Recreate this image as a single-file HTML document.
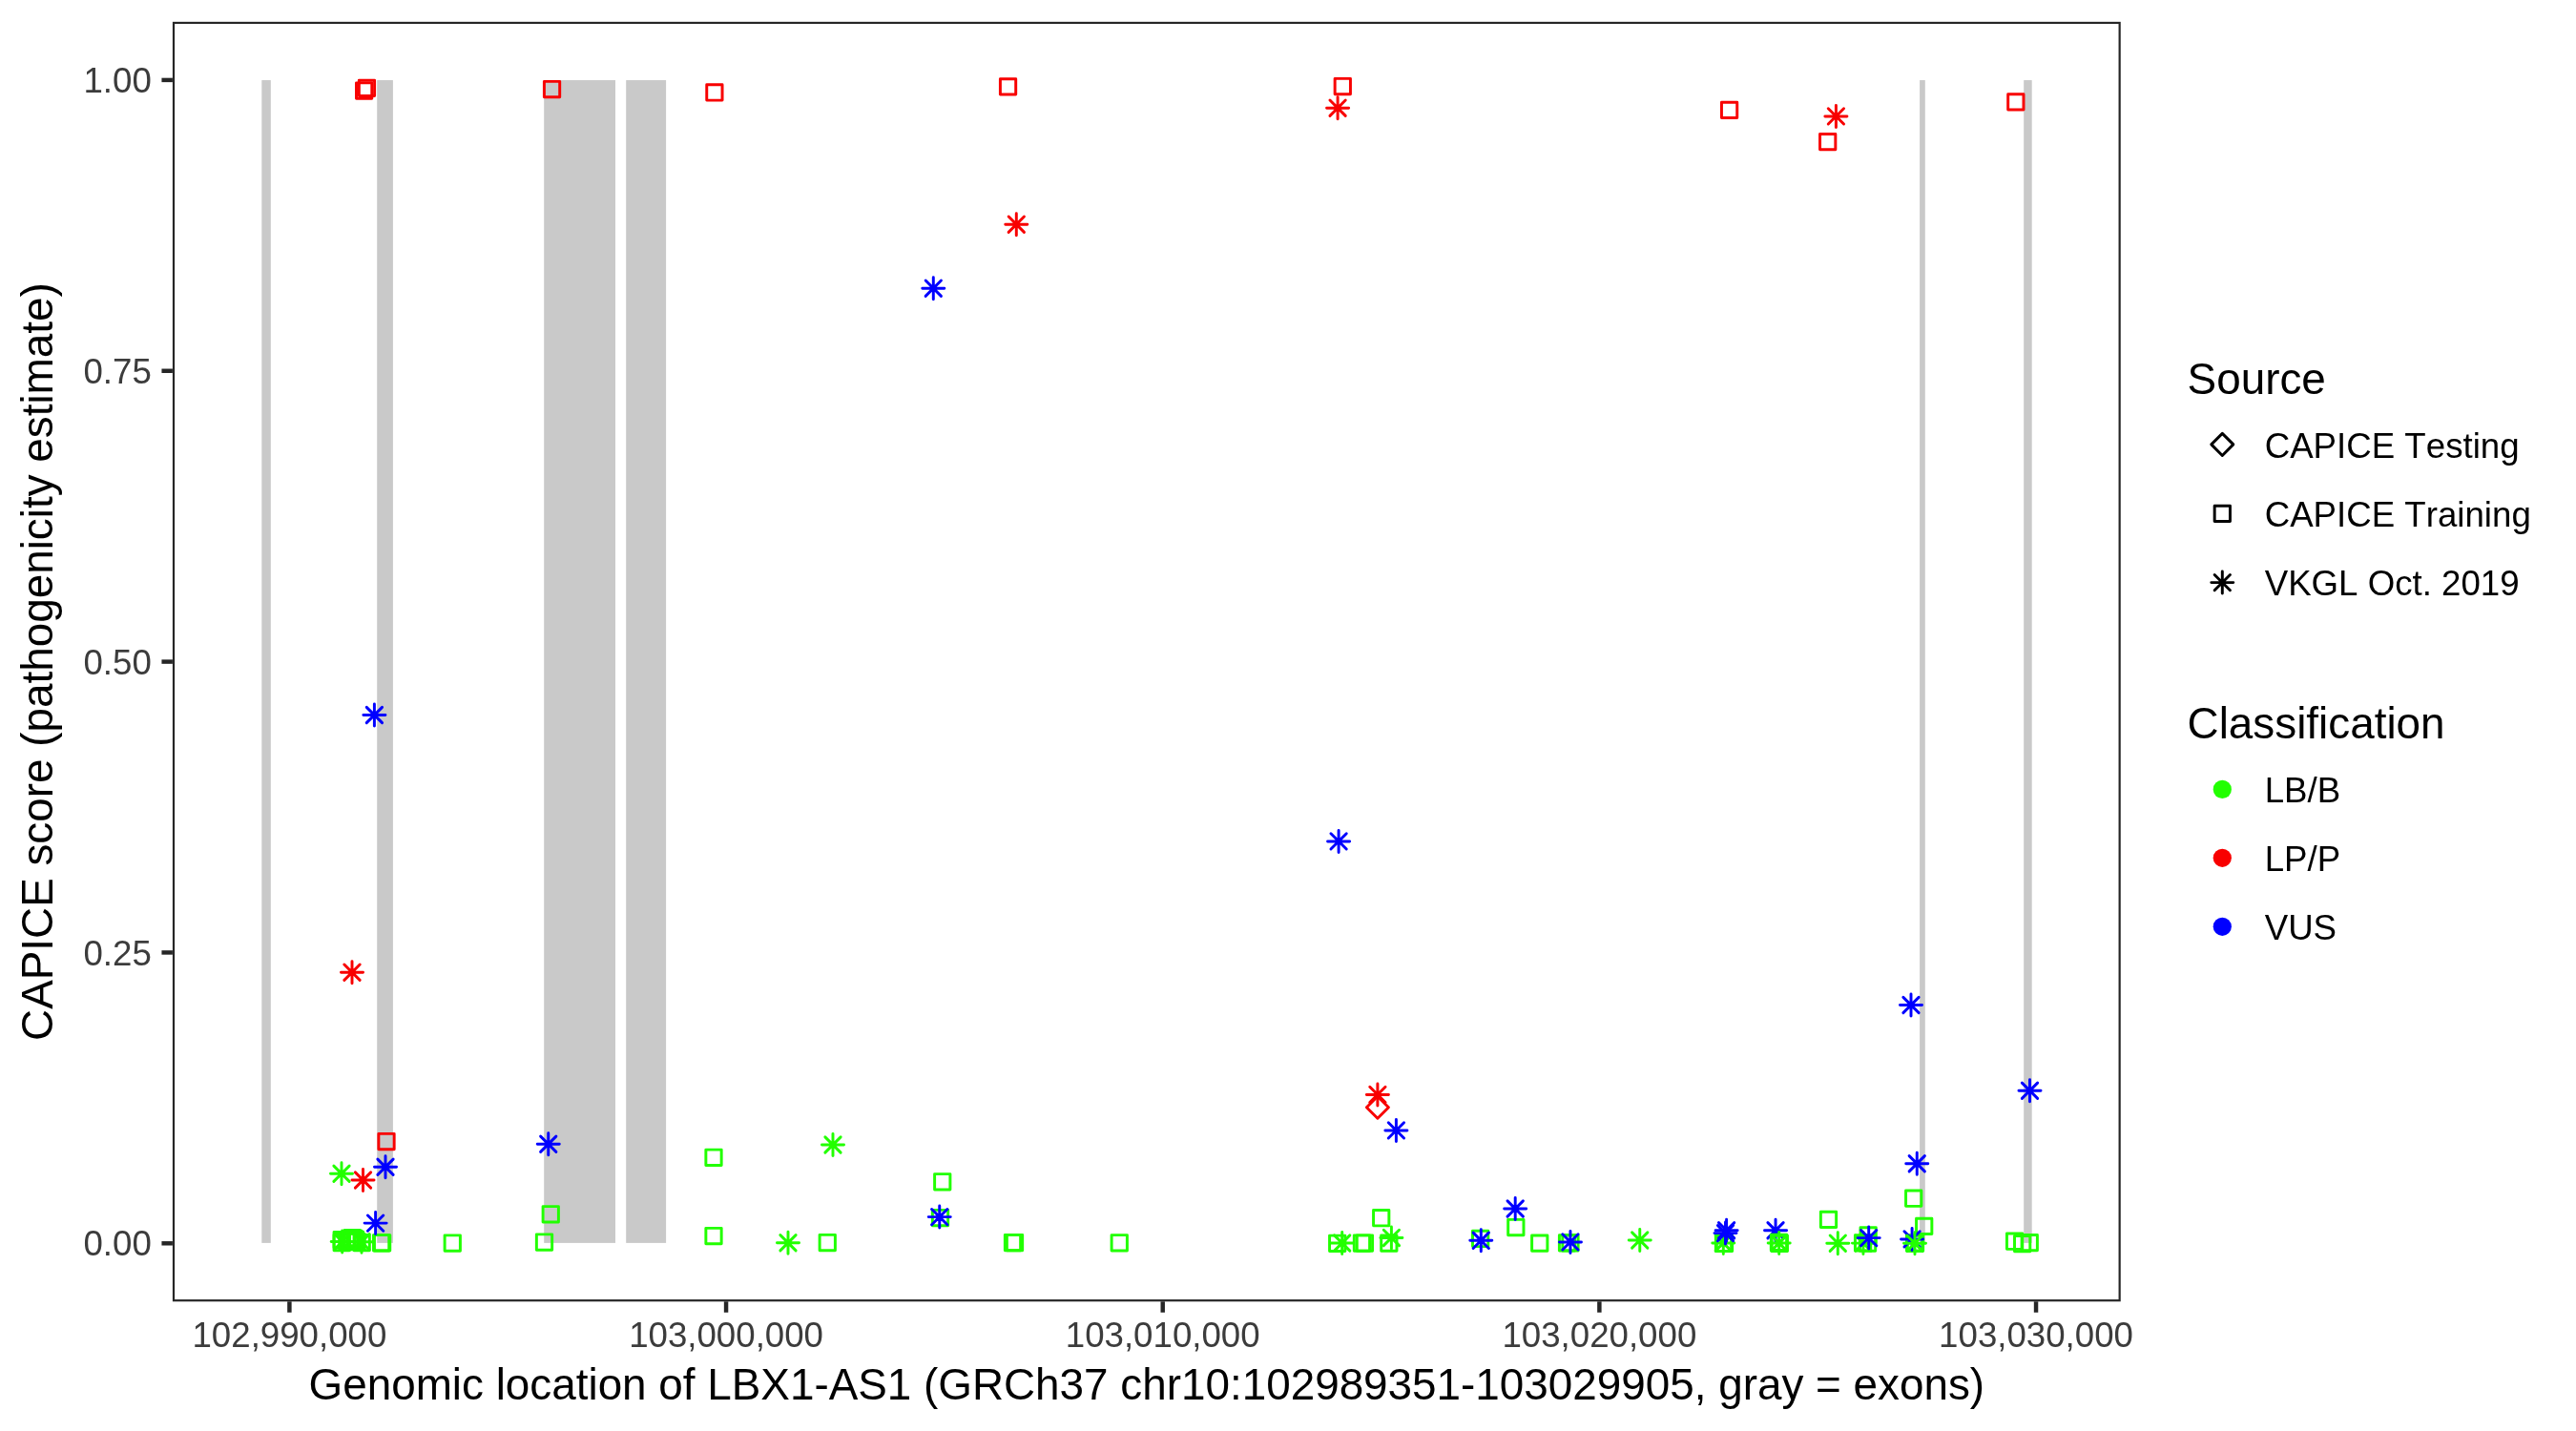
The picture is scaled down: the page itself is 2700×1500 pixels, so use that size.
<!DOCTYPE html>
<html lang="en"><head><meta charset="utf-8"><title>CAPICE score LBX1-AS1</title>
<style>html,body{margin:0;padding:0;background:#fff}body{width:2700px;height:1500px;overflow:hidden}svg{display:block;will-change:transform}text{font-family:"Liberation Sans",Arial,Helvetica,sans-serif;font-kerning:none}</style></head><body>
<svg width="2700" height="1500" viewBox="0 0 2700 1500">
<rect width="2700" height="1500" fill="#fff"/>
<g fill="#C9C9C9">
<rect x="274.3" y="84.05" width="9.5" height="1218.85"/>
<rect x="395.2" y="84.05" width="16.7" height="1218.85"/>
<rect x="570.2" y="84.05" width="74.8" height="1218.85"/>
<rect x="656.2" y="84.05" width="41.9" height="1218.85"/>
<rect x="2012.1" y="84.05" width="5.7" height="1218.85"/>
<rect x="2121.2" y="84.05" width="8.5" height="1218.85"/>
</g>
<g fill="none" stroke-width="2.95" stroke-linecap="round" stroke-linejoin="round">
<rect x="739.86" y="1205.11" width="16.29" height="16.29" stroke="#22FF00"/>
<rect x="569.11" y="1264.61" width="16.29" height="16.29" stroke="#22FF00"/>
<rect x="739.86" y="1287.36" width="16.29" height="16.29" stroke="#22FF00"/>
<rect x="391.46" y="1294.61" width="16.29" height="16.29" stroke="#22FF00"/>
<rect x="392.46" y="1294.61" width="16.29" height="16.29" stroke="#22FF00"/>
<rect x="466.11" y="1294.86" width="16.29" height="16.29" stroke="#22FF00"/>
<rect x="562.36" y="1293.86" width="16.29" height="16.29" stroke="#22FF00"/>
<rect x="859.11" y="1294.36" width="16.29" height="16.29" stroke="#22FF00"/>
<rect x="979.61" y="1230.61" width="16.29" height="16.29" stroke="#22FF00"/>
<rect x="977.36" y="1268.36" width="16.29" height="16.29" stroke="#22FF00"/>
<rect x="1053.36" y="1294.36" width="16.29" height="16.29" stroke="#22FF00"/>
<rect x="1055.36" y="1294.36" width="16.29" height="16.29" stroke="#22FF00"/>
<rect x="1165.11" y="1294.61" width="16.29" height="16.29" stroke="#22FF00"/>
<rect x="1393.56" y="1295.11" width="16.29" height="16.29" stroke="#22FF00"/>
<rect x="1419.31" y="1294.86" width="16.29" height="16.29" stroke="#22FF00"/>
<rect x="1422.26" y="1294.86" width="16.29" height="16.29" stroke="#22FF00"/>
<rect x="1439.56" y="1268.56" width="16.29" height="16.29" stroke="#22FF00"/>
<rect x="1447.7" y="1294.86" width="16.29" height="16.29" stroke="#22FF00"/>
<rect x="1543.51" y="1290.31" width="16.29" height="16.29" stroke="#22FF00"/>
<rect x="1580.7" y="1278.36" width="16.29" height="16.29" stroke="#22FF00"/>
<rect x="1605.61" y="1294.9" width="16.29" height="16.29" stroke="#22FF00"/>
<rect x="1634.4" y="1294.76" width="16.29" height="16.29" stroke="#22FF00"/>
<rect x="1637.81" y="1294.76" width="16.29" height="16.29" stroke="#22FF00"/>
<rect x="1798.36" y="1295.15" width="16.29" height="16.29" stroke="#22FF00"/>
<rect x="1799.36" y="1295.15" width="16.29" height="16.29" stroke="#22FF00"/>
<rect x="1908.36" y="1270.15" width="16.29" height="16.29" stroke="#22FF00"/>
<rect x="1944.45" y="1294.76" width="16.29" height="16.29" stroke="#22FF00"/>
<rect x="1950.01" y="1286.7" width="16.29" height="16.29" stroke="#22FF00"/>
<rect x="1949.4" y="1295.01" width="16.29" height="16.29" stroke="#22FF00"/>
<rect x="1997.56" y="1248.06" width="16.29" height="16.29" stroke="#22FF00"/>
<rect x="2008.56" y="1277.26" width="16.29" height="16.29" stroke="#22FF00"/>
<rect x="1998.45" y="1294.95" width="16.29" height="16.29" stroke="#22FF00"/>
<rect x="1999.36" y="1294.95" width="16.29" height="16.29" stroke="#22FF00"/>
<rect x="2103.45" y="1293.06" width="16.29" height="16.29" stroke="#22FF00"/>
<rect x="2111.51" y="1295.45" width="16.29" height="16.29" stroke="#22FF00"/>
<rect x="2119.11" y="1294.45" width="16.29" height="16.29" stroke="#22FF00"/>
<rect x="350.06" y="1294.36" width="16.29" height="16.29" stroke="#22FF00"/>
<rect x="350.06" y="1291.56" width="16.29" height="16.29" stroke="#22FF00"/>
<rect x="371.06" y="1294.36" width="16.29" height="16.29" stroke="#22FF00"/>
<rect x="361.16" y="1289.36" width="16.29" height="16.29" stroke="#22FF00"/>
<rect x="358.36" y="1291.15" width="16.29" height="16.29" stroke="#22FF00"/>
<rect x="364.36" y="1291.15" width="16.29" height="16.29" stroke="#22FF00"/>
<rect x="355.86" y="1292.86" width="16.29" height="16.29" stroke="#22FF00"/>
<rect x="365.86" y="1293.36" width="16.29" height="16.29" stroke="#22FF00"/>
<rect x="373.5" y="86.86" width="16.29" height="16.29" stroke="#F80000"/>
<rect x="376.31" y="84.26" width="16.29" height="16.29" stroke="#F80000"/>
<rect x="570.4" y="85.36" width="16.29" height="16.29" stroke="#F80000"/>
<rect x="740.75" y="88.81" width="16.29" height="16.29" stroke="#F80000"/>
<rect x="1048.41" y="82.76" width="16.29" height="16.29" stroke="#F80000"/>
<rect x="1399.15" y="82.36" width="16.29" height="16.29" stroke="#F80000"/>
<rect x="1804.45" y="107.16" width="16.29" height="16.29" stroke="#F80000"/>
<rect x="1907.56" y="140.45" width="16.29" height="16.29" stroke="#F80000"/>
<rect x="2104.7" y="98.66" width="16.29" height="16.29" stroke="#F80000"/>
<rect x="396.86" y="1188.36" width="16.29" height="16.29" stroke="#F80000"/>
<path d="M1432.38 1160.7L1443.9 1149.18L1455.42 1160.7L1443.9 1172.22Z" stroke="#F80000"/>
<path d="M349.86 1222.11L366.14 1238.39M349.86 1238.39L366.14 1222.11M346.48 1230.25L369.52 1230.25M358 1218.73L358 1241.77" stroke="#22FF00"/>
<path d="M864.86 1191.86L881.14 1208.14M864.86 1208.14L881.14 1191.86M861.48 1200L884.52 1200M873 1188.48L873 1211.52" stroke="#22FF00"/>
<path d="M817.86 1294.61L834.14 1310.89M817.86 1310.89L834.14 1294.61M814.48 1302.75L837.52 1302.75M826 1291.23L826 1314.27" stroke="#22FF00"/>
<path d="M1398.56 1294.86L1414.85 1311.14M1398.56 1311.14L1414.85 1294.86M1395.18 1303L1418.22 1303M1406.7 1291.48L1406.7 1314.52" stroke="#22FF00"/>
<path d="M1450.26 1289.31L1466.55 1305.6M1450.26 1305.6L1466.55 1289.31M1446.88 1297.45L1469.92 1297.45M1458.4 1285.93L1458.4 1308.97" stroke="#22FF00"/>
<path d="M1710.61 1291.86L1726.89 1308.14M1710.61 1308.14L1726.89 1291.86M1707.23 1300L1730.27 1300M1718.75 1288.48L1718.75 1311.52" stroke="#22FF00"/>
<path d="M1798.15 1294.86L1814.44 1311.14M1798.15 1311.14L1814.44 1294.86M1794.78 1303L1817.82 1303M1806.3 1291.48L1806.3 1314.52" stroke="#22FF00"/>
<path d="M1918.15 1295.06L1934.44 1311.35M1918.15 1311.35L1934.44 1295.06M1914.78 1303.2L1937.82 1303.2M1926.3 1291.68L1926.3 1314.72" stroke="#22FF00"/>
<path d="M1944.81 1294.95L1961.1 1311.24M1944.81 1311.24L1961.1 1294.95M1941.43 1303.1L1964.47 1303.1M1952.95 1291.58L1952.95 1314.62" stroke="#22FF00"/>
<path d="M350.56 1293.36L366.84 1309.64M350.56 1309.64L366.84 1293.36M347.18 1301.5L370.22 1301.5M358.7 1289.98L358.7 1313.02" stroke="#22FF00"/>
<path d="M370.86 1293.65L387.14 1309.94M370.86 1309.94L387.14 1293.65M367.48 1301.8L390.52 1301.8M379 1290.28L379 1313.32" stroke="#22FF00"/>
<path d="M1393.95 105.06L1410.24 121.34M1393.95 121.34L1410.24 105.06M1390.58 113.2L1413.62 113.2M1402.1 101.68L1402.1 124.72" stroke="#F80000"/>
<path d="M1057.15 227.05L1073.44 243.34M1057.15 243.34L1073.44 227.05M1053.78 235.2L1076.82 235.2M1065.3 223.68L1065.3 246.72" stroke="#F80000"/>
<path d="M1916.26 113.76L1932.55 130.05M1916.26 130.05L1932.55 113.76M1912.88 121.9L1935.92 121.9M1924.4 110.38L1924.4 133.42" stroke="#F80000"/>
<path d="M360.86 1011.06L377.14 1027.35M360.86 1027.35L377.14 1011.06M357.48 1019.2L380.52 1019.2M369 1007.68L369 1030.72" stroke="#F80000"/>
<path d="M372.36 1228.86L388.64 1245.14M372.36 1245.14L388.64 1228.86M368.98 1237L392.02 1237M380.5 1225.48L380.5 1248.52" stroke="#F80000"/>
<path d="M1435.76 1139.26L1452.05 1155.55M1435.76 1155.55L1452.05 1139.26M1432.38 1147.4L1455.42 1147.4M1443.9 1135.88L1443.9 1158.92" stroke="#F80000"/>
<path d="M1852.9 1281.61L1869.19 1297.89M1852.9 1297.89L1869.19 1281.61M1849.53 1289.75L1872.57 1289.75M1861.05 1278.23L1861.05 1301.27" stroke="#0000FF"/>
<rect x="1856.31" y="1294.11" width="16.29" height="16.29" stroke="#22FF00"/>
<rect x="1857.2" y="1295.2" width="16.29" height="16.29" stroke="#22FF00"/>
<path d="M970.15 294.06L986.44 310.34M970.15 310.34L986.44 294.06M966.78 302.2L989.82 302.2M978.3 290.68L978.3 313.72" stroke="#0000FF"/>
<path d="M384.25 741.36L400.54 757.64M384.25 757.64L400.54 741.36M380.88 749.5L403.92 749.5M392.4 737.98L392.4 761.02" stroke="#0000FF"/>
<path d="M1394.95 873.75L1411.24 890.04M1394.95 890.04L1411.24 873.75M1391.58 881.9L1414.62 881.9M1403.1 870.38L1403.1 893.42" stroke="#0000FF"/>
<path d="M566.61 1191.11L582.89 1207.39M566.61 1207.39L582.89 1191.11M563.23 1199.25L586.27 1199.25M574.75 1187.73L574.75 1210.77" stroke="#0000FF"/>
<path d="M395.86 1215.11L412.14 1231.39M395.86 1231.39L412.14 1215.11M392.48 1223.25L415.52 1223.25M404 1211.73L404 1234.77" stroke="#0000FF"/>
<path d="M385.46 1273.95L401.75 1290.24M385.46 1290.24L401.75 1273.95M382.08 1282.1L405.12 1282.1M393.6 1270.58L393.6 1293.62" stroke="#0000FF"/>
<path d="M976.61 1267.45L992.89 1283.74M976.61 1283.74L992.89 1267.45M973.23 1275.6L996.27 1275.6M984.75 1264.08L984.75 1287.12" stroke="#0000FF"/>
<path d="M1455.26 1176.76L1471.55 1193.05M1455.26 1193.05L1471.55 1176.76M1451.88 1184.9L1474.92 1184.9M1463.4 1173.38L1463.4 1196.42" stroke="#0000FF"/>
<path d="M1544.15 1292.15L1560.44 1308.44M1544.15 1308.44L1560.44 1292.15M1540.78 1300.3L1563.82 1300.3M1552.3 1288.78L1552.3 1311.82" stroke="#0000FF"/>
<path d="M1580.06 1258.86L1596.35 1275.14M1580.06 1275.14L1596.35 1258.86M1576.68 1267L1599.72 1267M1588.2 1255.48L1588.2 1278.52" stroke="#0000FF"/>
<path d="M1637.81 1293.76L1654.1 1310.05M1637.81 1310.05L1654.1 1293.76M1634.43 1301.9L1657.47 1301.9M1645.95 1290.38L1645.95 1313.42" stroke="#0000FF"/>
<path d="M1800.36 1284.45L1816.64 1300.74M1800.36 1300.74L1816.64 1284.45M1796.98 1292.6L1820.02 1292.6M1808.5 1281.08L1808.5 1304.12" stroke="#0000FF"/>
<path d="M1801.45 1281.61L1817.74 1297.89M1801.45 1297.89L1817.74 1281.61M1798.08 1289.75L1821.12 1289.75M1809.6 1278.23L1809.6 1301.27" stroke="#0000FF"/>
<path d="M1950.56 1289.45L1966.85 1305.74M1950.56 1305.74L1966.85 1289.45M1947.18 1297.6L1970.22 1297.6M1958.7 1286.08L1958.7 1309.12" stroke="#0000FF"/>
<path d="M1994.86 1045.36L2011.14 1061.64M1994.86 1061.64L2011.14 1045.36M1991.48 1053.5L2014.52 1053.5M2003 1041.98L2003 1065.02" stroke="#0000FF"/>
<path d="M2001.11 1211.61L2017.39 1227.89M2001.11 1227.89L2017.39 1211.61M1997.73 1219.75L2020.77 1219.75M2009.25 1208.23L2009.25 1231.27" stroke="#0000FF"/>
<path d="M1995.95 1290.76L2012.24 1307.05M1995.95 1307.05L2012.24 1290.76M1992.58 1298.9L2015.62 1298.9M2004.1 1287.38L2004.1 1310.42" stroke="#0000FF"/>
<path d="M2119.36 1135.11L2135.64 1151.39M2119.36 1151.39L2135.64 1135.11M2115.98 1143.25L2139.02 1143.25M2127.5 1131.73L2127.5 1154.77" stroke="#0000FF"/>
<path d="M1856.56 1294.86L1872.85 1311.14M1856.56 1311.14L1872.85 1294.86M1853.18 1303L1876.22 1303M1864.7 1291.48L1864.7 1314.52" stroke="#22FF00"/>
<path d="M1998.86 1295.06L2015.14 1311.35M1998.86 1311.35L2015.14 1295.06M1995.48 1303.2L2018.52 1303.2M2007 1291.68L2007 1314.72" stroke="#22FF00"/>
</g>
<rect x="182" y="23.95" width="2039.65" height="1339.25" fill="none" stroke="#262626" stroke-width="2.2"/>
<g stroke="#262626" stroke-width="4.45">
<line x1="169.44" y1="1303.3" x2="180.9" y2="1303.3"/>
<line x1="169.44" y1="998.45" x2="180.9" y2="998.45"/>
<line x1="169.44" y1="693.6" x2="180.9" y2="693.6"/>
<line x1="169.44" y1="388.75" x2="180.9" y2="388.75"/>
<line x1="169.44" y1="83.9" x2="180.9" y2="83.9"/>
<line x1="303.4" y1="1364.3" x2="303.4" y2="1375.76"/>
<line x1="761.06" y1="1364.3" x2="761.06" y2="1375.76"/>
<line x1="1218.72" y1="1364.3" x2="1218.72" y2="1375.76"/>
<line x1="1676.38" y1="1364.3" x2="1676.38" y2="1375.76"/>
<line x1="2134.04" y1="1364.3" x2="2134.04" y2="1375.76"/>
</g>
<g fill="#3C3C3C" font-size="36.67">
<text x="158.8" y="1316.4" text-anchor="end">0.00</text>
<text x="158.8" y="1011.55" text-anchor="end">0.25</text>
<text x="158.8" y="706.7" text-anchor="end">0.50</text>
<text x="158.8" y="401.85" text-anchor="end">0.75</text>
<text x="158.8" y="97" text-anchor="end">1.00</text>
<text x="303.4" y="1412.3" text-anchor="middle">102,990,000</text>
<text x="761.06" y="1412.3" text-anchor="middle">103,000,000</text>
<text x="1218.72" y="1412.3" text-anchor="middle">103,010,000</text>
<text x="1676.38" y="1412.3" text-anchor="middle">103,020,000</text>
<text x="2134.04" y="1412.3" text-anchor="middle">103,030,000</text>
</g>
<g fill="#000" font-size="45.83">
<text x="1201.83" y="1467" text-anchor="middle">Genomic location of LBX1-AS1 (GRCh37 chr10:102989351-103029905, gray = exons)</text>
<text transform="translate(55.2 693.57) rotate(-90)" text-anchor="middle">CAPICE score (pathogenicity estimate)</text>
<text x="2292.6" y="412.5">Source</text>
<text x="2292.6" y="773.6">Classification</text>
</g>
<g fill="none" stroke-width="2.95" stroke-linecap="round" stroke-linejoin="round">
<path d="M2317.78 465.9L2329.3 454.38L2340.82 465.9L2329.3 477.42Z" stroke="#000"/>
<rect x="2321.16" y="530.15" width="16.29" height="16.29" stroke="#000"/>
<path d="M2321.16 602.46L2337.45 618.75M2321.16 618.75L2337.45 602.46M2317.78 610.6L2340.82 610.6M2329.3 599.08L2329.3 622.12" stroke="#000"/>
</g>
<circle cx="2329.3" cy="827.4" r="9.62" fill="#22FF00"/>
<circle cx="2329.3" cy="899.3" r="9.62" fill="#F80000"/>
<circle cx="2329.3" cy="971.3" r="9.62" fill="#0000FF"/>
<g fill="#000" font-size="36.67">
<text x="2373.7" y="479.6">CAPICE Testing</text>
<text x="2373.7" y="552.3">CAPICE Training</text>
<text x="2373.7" y="624">VKGL Oct. 2019</text>
<text x="2373.7" y="840.7">LB/B</text>
<text x="2373.7" y="912.6">LP/P</text>
<text x="2373.7" y="984.6">VUS</text>
</g>
</svg></body></html>
